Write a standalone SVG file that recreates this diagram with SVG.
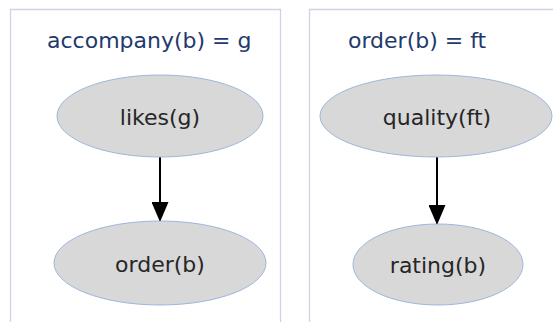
<svg xmlns="http://www.w3.org/2000/svg" width="553" height="322" viewBox="0 0 553 322">
  <defs>
    <style>
      .panel { fill: none; stroke: #d5cfe6; stroke-width: 1.3; }
      .title { font-family: "DejaVu Sans", Verdana, sans-serif; font-size: 22px; fill: #1f3a6d; }
      .node ellipse { fill: #d8d8d8; stroke: #9db7dc; stroke-width: 1; }
      .node text { font-family: "DejaVu Sans", Verdana, sans-serif; font-size: 22px; fill: #262626; text-anchor: middle; }
      .edge { stroke: #000; stroke-width: 2; fill: none; marker-end: url(#arrowhead); }
    </style>
    <marker id="arrowhead" markerWidth="20" markerHeight="17" refX="20" refY="8.5" orient="auto" markerUnits="userSpaceOnUse" viewBox="0 0 20 17">
      <path d="M0,0 L20,8.5 L0,17 Z" fill="#000"/>
    </marker>
  </defs>

  <!-- panel frames (open at the bottom) -->
  <g id="panel-left">
    <path class="panel" d="M10.5,322 V9.5 H280.5 V322"/>
    <text class="title" x="47" y="48">accompany(b) = g</text>
  </g>
  <g id="panel-right">
    <path class="panel" d="M309.5,322 V9.5 H553"/>
    <text class="title" x="348" y="48">order(b) = ft</text>
  </g>

  <!-- connectors -->
  <g id="edges">
    <line class="edge" x1="160" y1="157" x2="160" y2="222"/>
    <line class="edge" x1="437" y1="157" x2="437" y2="225"/>
  </g>

  <!-- nodes -->
  <g id="likes-g" class="node">
    <ellipse cx="160" cy="116" rx="103" ry="41"/>
    <text x="160" y="125">likes(g)</text>
  </g>
  <g id="order-b" class="node">
    <ellipse cx="160" cy="263" rx="106" ry="42"/>
    <text x="160" y="272">order(b)</text>
  </g>
  <g id="quality-ft" class="node">
    <ellipse cx="436" cy="116" rx="116" ry="41"/>
    <text x="437" y="125">quality(ft)</text>
  </g>
  <g id="rating-b" class="node">
    <ellipse cx="438" cy="264.5" rx="85" ry="40.5"/>
    <text x="438" y="273">rating(b)</text>
  </g>
</svg>
